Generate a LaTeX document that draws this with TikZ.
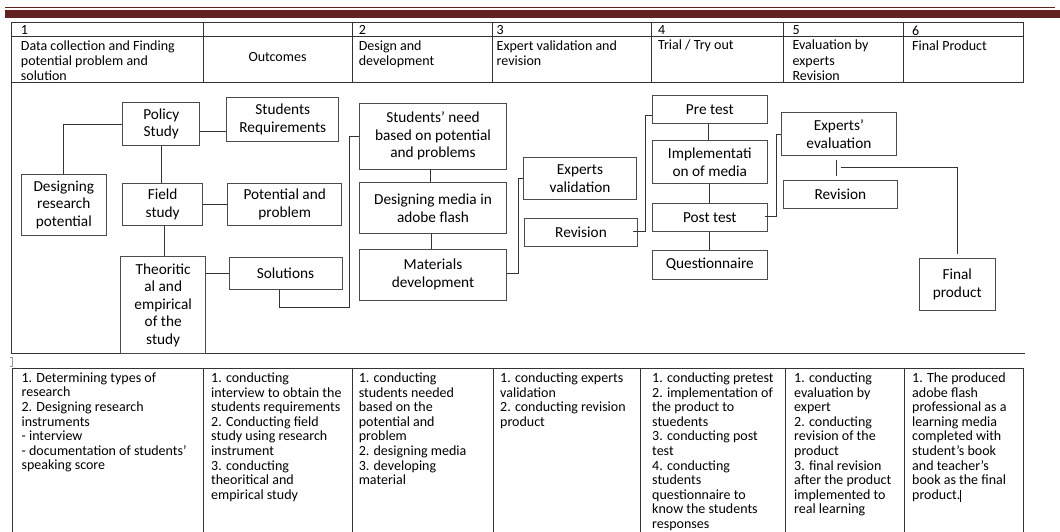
\documentclass[tikz,border=0pt]{standalone}
\usepackage{fontspec}
\setmainfont{Carlito}
\definecolor{barred}{RGB}{98,34,34}
\newcommand*{\HeadFont}{\fontsize{14}{15.3}\selectfont}
\newcommand*{\CellFont}{\fontsize{14}{14.6}\selectfont}
\newcommand*{\BoxFont}{\fontsize{15.3}{17.5}\selectfont}

\begin{document}
\begin{tikzpicture}[x=1pt,y=-1pt,
    box/.style={draw=black!70, line width=0.8pt, align=center, inner sep=0pt, font=\BoxFont},
    link/.style={draw=black!80, line width=0.8pt},
    tbl/.style={draw=black!80, line width=0.9pt},
    cell/.style={anchor=north west, align=left, inner sep=0pt, font=\HeadFont},
    actcell/.style={cell, font=\CellFont}]
    \useasboundingbox (0,0) rectangle (1060,532);

    % page rule
    \draw[barred, line width=1.3pt] (5,7.3) -- (1055,7.3);
    \fill[barred] (5,10) rectangle (1060,18.3);

    % header table
    \draw[tbl] (11,22.5) rectangle (1023,82);
    \draw[tbl] (11,36.7) -- (1023,36.7);
    \foreach \x in {203,352,492,651,783,903}
        \draw[tbl] (\x,22.5) -- (\x,82);
    \node[cell] (h1) at (20.7,25.5) {1\\Data collection and Finding\\potential problem and\\solution};
    \node[font=\HeadFont, inner sep=0pt] (hout) at (277.5,57.5) {Outcomes};
    \node[cell] (h2) at (358.6,25.5) {2\\Design and\\development};
    \node[cell] (h3) at (496.5,25.5) {3\\Expert validation and\\revision};
    \node[cell] (h4) at (657.9,25.5) {4\\Trial / Try out};
    \node[cell] (h5) at (792.4,25.5) {5\\Evaluation by\\experts\\Revision};
    \node[cell] (h6) at (912,25.5) {6\\Final Product};

    % middle frame
    \draw[tbl] (11,82) -- (11,353.3) -- (1025,353.3);
    \draw[black!40, line width=0.5pt] (9.5,357) -- (12.5,357) -- (12.5,366) -- (9.5,366);

    % stage 1
    \node[box, minimum width=77pt, minimum height=42.6pt] (pol) at (161.3,124) {Policy\\Study};
    \node[box, minimum width=112pt, minimum height=44pt] (sreq) at (282.8,119.5) {Students\\Requirements};
    \node[box, minimum width=85.7pt, minimum height=61pt] (drp) at (63.8,204.5) {Designing\\research\\potential};
    \node[box, minimum width=80pt, minimum height=42.4pt] (fld) at (162.7,204.5) {Field\\study};
    \node[box, minimum width=114pt, minimum height=42.4pt] (pot) at (284.7,204.5) {Potential and\\problem};
    \node[box, minimum width=85pt, minimum height=96.6pt] (thr) at (163.2,305) {Theoritic\\al and\\empirical\\of the\\study};
    \node[box, minimum width=113pt, minimum height=31.6pt] (sol) at (285.5,273.5) {Solutions};

    % stage 2
    \node[box, minimum width=147.4pt, minimum height=65.7pt] (need) at (433,136.2) {Students’ need\\based on potential\\and problems};
    \node[box, minimum width=147.4pt, minimum height=50.6pt] (dmed) at (433,208) {Designing media in\\adobe flash};
    \node[box, minimum width=147.4pt, minimum height=51pt] (mat) at (433,274.5) {Materials\\development};

    % stage 3
    \node[box, minimum width=113.4pt, minimum height=41.6pt] (exv) at (580,178.5) {Experts\\validation};
    \node[box, minimum width=113.4pt, minimum height=27.7pt] (rev1) at (581,232.2) {Revision};

    % stage 4
    \node[box, minimum width=115pt, minimum height=28.3pt] (pre) at (709.8,109.2) {Pre test};
    \node[box, minimum width=115pt, minimum height=42.6pt] (impl) at (709.8,162) {Implementati\\on of media};
    \node[box, minimum width=115pt, minimum height=28.4pt] (post) at (709.8,217.5) {Post test};
    \node[box, minimum width=115pt, minimum height=29pt] (quest) at (709.8,264.5) {Questionnaire};

    % stage 5 and 6
    \node[box, minimum width=114.3pt, minimum height=43pt] (exe) at (838.9,134.2) {Experts’\\evaluation};
    \node[box, minimum width=114pt, minimum height=27.6pt] (rev2) at (840.3,194.5) {Revision};
    \node[box, minimum width=75.7pt, minimum height=51.7pt] (fin) at (957.2,284.2) {Final\\product};
    \coordinate (fork) at (840.7,167.3);

    % connectors
    \draw[link] (pol.west) -| (drp.north);
    \draw[link] ([yshift=-7.7pt]pol.east) -- ([yshift=-7.7pt]pol.east -| sreq.west);
    \draw[link] (pol.south) -- (pol.south |- fld.north);
    \draw[link] (fld) -- (pot);
    \draw[link] ([xshift=2pt]fld.south) -- ([xshift=2pt]fld.south |- thr.north);
    \draw[link] (sol.west -| thr.east) -- (sol.west);
    \draw[link] ([xshift=-6.2pt]sol.south) -- ++(0,18) -| ([xshift=-9.3pt]need.west) -- (need.west);
    \draw[link] ([xshift=-3pt]need.south) -- ([xshift=-3pt]dmed.north);
    \draw[link] ([xshift=-1.3pt]dmed.south) -- ([xshift=-1.3pt]mat.north);
    \draw[link] ([yshift=1.2pt]mat.east) -- ++(11.6,0) |- (exv.west);
    \draw[link] ([xshift=-5pt,yshift=0.5pt]rev1.east) -- ++(12.3,0) |- ([yshift=-5.8pt]pre.west);
    \draw[link] ([xshift=-1.5pt]pre.south) -- ([xshift=-1.5pt]impl.north);
    \draw[link] (impl) -- (post);
    \draw[link] (post) -- (quest);
    \draw[link] ([xshift=-2.3pt,yshift=1.5pt]post.east) -- ++(11.3,0) |- (exe.west);
    \draw[link, shorten <=3.6pt, shorten >=4.7pt] ([xshift=-2.2pt]exe.south) -- ([xshift=-2.2pt]exe.south |- rev2.north);
    \draw[link, shorten >=4pt] (fork) -| (fin.north);

    % activity table
    \draw[tbl] (12,532) -- (12,368) -- (1023,368) -- (1023,532);
    \foreach \x in {203,352,493,640,785,904}
        \draw[tbl] (\x,368) -- (\x,532);
    \node[actcell] (a1) at (21.4,372.5) {1. Determining types of\\research\\2. Designing research\\instruments\\- interview\\- documentation of students’\\speaking score};
    \node[actcell] (a2) at (211,372.5) {1. conducting\\interview to obtain the\\students requirements\\2. Conducting field\\study using research\\instrument\\3. conducting\\theoritical and\\empirical study};
    \node[actcell] (a3) at (358.6,372.5) {1. conducting\\students needed\\based on the\\potential and\\problem\\2. designing media\\3. developing\\material};
    \node[actcell] (a4) at (500,372.5) {1. conducting experts\\validation\\2. conducting revision\\product};
    \node[actcell] (a5) at (652,372.5) {1. conducting pretest\\2. implementation of\\the product to\\stuedents\\3. conducting post\\test\\4. conducting\\students\\questionnaire to\\know the students\\responses};
    \node[actcell] (a6) at (794,372.5) {1. conducting\\evaluation by\\expert\\2. conducting\\revision of the\\product\\3. final revision\\after the product\\implemented to\\real learning};
    \node[actcell] (a7) at (912,372.5) {1. The produced\\adobe flash\\professional as a\\learning media\\completed with\\student’s book\\and teacher’s\\book as the final\\product.\rule[-2.5pt]{0.6pt}{12pt}};
\end{tikzpicture}
\end{document}
